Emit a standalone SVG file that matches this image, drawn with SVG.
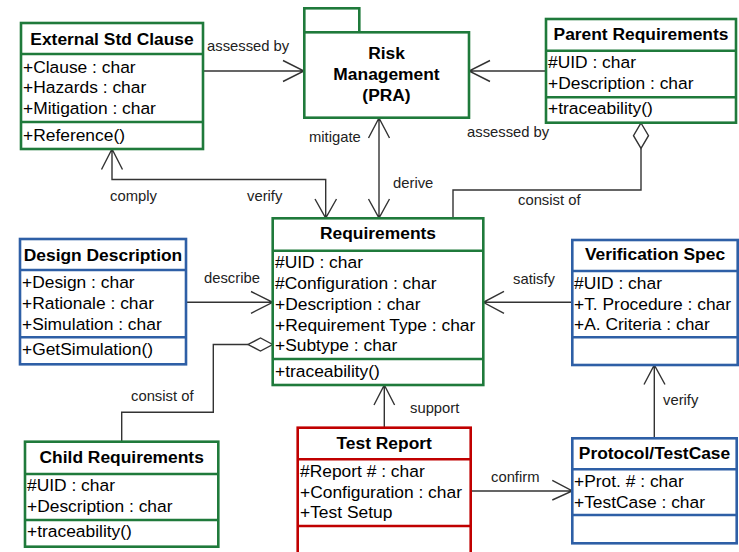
<svg xmlns="http://www.w3.org/2000/svg" width="739" height="552" viewBox="0 0 739 552">
<style>
.bg{fill:#fff}
.g{fill:#fff;stroke:#1f7a3b;stroke-width:2.6}
.b{fill:#fff;stroke:#2e5fa6;stroke-width:2.6}
.r{fill:#fff;stroke:#c00000;stroke-width:2.6}
.gl{stroke:#1f7a3b;stroke-width:2.6}
.bl{stroke:#2e5fa6;stroke-width:2.6}
.rl{stroke:#c00000;stroke-width:2.6}
.t{font-family:"Liberation Sans",Arial,sans-serif;font-size:17.4px;font-weight:bold;fill:#000;text-anchor:middle}
.a{font-family:"Liberation Sans",Arial,sans-serif;font-size:17.4px;fill:#000}
.lb{font-family:"Liberation Sans",Arial,sans-serif;font-size:14.8px;fill:#222}
.c{fill:none;stroke:#333;stroke-width:1.4}
.d{fill:#fff;stroke:#333;stroke-width:1.4}
</style>
<rect class="bg" width="739" height="552"/>

<g id="connectors">
  <!-- External -> Risk : assessed by -->
  <path class="c" d="M203,71 H304 M283,60.5 L304,71 L283,81.5"/>
  <text class="lb" x="207" y="51">assessed by</text>
  <!-- Parent -> Risk : assessed by -->
  <path class="c" d="M546,71 H469 M490,60.5 L469,71 L490,81.5"/>
  <text class="lb" x="467" y="137">assessed by</text>
  <!-- Risk <-> Requirements : mitigate / derive -->
  <path class="c" d="M379,118 V218 M368.5,138 L379,118 L389.5,138 M368.5,199 L379,218 L389.5,199"/>
  <text class="lb" x="309" y="142">mitigate</text>
  <text class="lb" x="393" y="188">derive</text>
  <!-- comply / verify -->
  <path class="c" d="M112,149 V179.5 H325.7 V218 M101.5,169.5 L112,149 L122.5,169.5 M315,199 L325.7,218 L336.5,199"/>
  <text class="lb" x="110" y="201">comply</text>
  <text class="lb" x="247" y="201">verify</text>
  <!-- Parent consist of -->
  <path class="d" d="M641,123 L648.5,135.7 L641,148.3 L633.5,135.7 Z"/>
  <path class="c" d="M641,148.3 V190 H453 V218"/>
  <text class="lb" x="518" y="205">consist of</text>
  <!-- describe -->
  <path class="c" d="M186,302.3 H272.7 M251,291.5 L272.7,302.3 L251,313.3"/>
  <text class="lb" x="204" y="283">describe</text>
  <!-- satisfy -->
  <path class="c" d="M572.3,302.3 H483.3 M504,291.3 L483.3,302.3 L504,313.3"/>
  <text class="lb" x="513" y="284">satisfy</text>
  <!-- child consist of -->
  <path class="d" d="M272.7,344.5 L260.5,338 L248,344.5 L260.5,351 Z"/>
  <path class="c" d="M248,344.5 H213.3 V412.3 H121.7 V441.7"/>
  <text class="lb" x="131" y="400.5">consist of</text>
  <!-- support -->
  <path class="c" d="M384.3,427.7 V385 M374,405 L384.3,385 L394.6,405"/>
  <text class="lb" x="410" y="413">support</text>
  <!-- confirm -->
  <path class="c" d="M470.7,491 H572.3 M552.3,480.3 L572.3,491 L552.3,500"/>
  <text class="lb" x="491" y="481.5">confirm</text>
  <!-- verify Protocol -> Verification Spec -->
  <path class="c" d="M654.3,438.3 V365 M644,384.5 L654.3,365 L665,384.5"/>
  <text class="lb" x="663" y="405">verify</text>
</g>

<g id="external-std-clause">
  <rect class="g" x="21" y="23" width="182" height="126"/>
  <line class="gl" x1="21" y1="54" x2="203" y2="54"/>
  <line class="gl" x1="21" y1="122" x2="203" y2="122"/>
  <text class="t" x="112" y="44.5">External Std Clause</text>
  <text class="a" x="23" y="72.7">+Clause : char</text>
  <text class="a" x="23" y="93.3">+Hazards : char</text>
  <text class="a" x="23" y="114">+Mitigation : char</text>
  <text class="a" x="23" y="141">+Reference()</text>
</g>

<g id="risk-management">
  <rect class="g" x="304.3" y="8.3" width="55" height="24"/>
  <rect class="g" x="304.3" y="32.3" width="164.7" height="85.4"/>
  <text class="t" x="386.5" y="59">Risk</text>
  <text class="t" x="386.5" y="80">Management</text>
  <text class="t" x="386.5" y="100.5">(PRA)</text>
</g>

<g id="parent-requirements">
  <rect class="g" x="546" y="19" width="190" height="103.7"/>
  <line class="gl" x1="546" y1="50.7" x2="736" y2="50.7"/>
  <line class="gl" x1="546" y1="97.3" x2="736" y2="97.3"/>
  <text class="t" x="641" y="39.5">Parent Requirements</text>
  <text class="a" x="548" y="68">#UID : char</text>
  <text class="a" x="548" y="88.5">+Description : char</text>
  <text class="a" x="548" y="113.5">+traceability()</text>
</g>

<g id="requirements">
  <rect class="g" x="272.7" y="218.3" width="210.6" height="166.7"/>
  <line class="gl" x1="272.7" y1="250.7" x2="483.3" y2="250.7"/>
  <line class="gl" x1="272.7" y1="359" x2="483.3" y2="359"/>
  <text class="t" x="378" y="239">Requirements</text>
  <text class="a" x="275" y="267.5">#UID : char</text>
  <text class="a" x="275" y="288.5">#Configuration : char</text>
  <text class="a" x="275" y="309.5">+Description : char</text>
  <text class="a" x="275" y="330.5">+Requirement Type : char</text>
  <text class="a" x="275" y="351">+Subtype : char</text>
  <text class="a" x="275" y="376.5">+traceability()</text>
</g>

<g id="design-description">
  <rect class="b" x="20" y="239" width="166" height="125.3"/>
  <line class="bl" x1="20" y1="270" x2="186" y2="270"/>
  <line class="bl" x1="20" y1="337.3" x2="186" y2="337.3"/>
  <text class="t" x="103" y="260.5">Design Description</text>
  <text class="a" x="22" y="288">+Design : char</text>
  <text class="a" x="22" y="309">+Rationale : char</text>
  <text class="a" x="22" y="329.5">+Simulation : char</text>
  <text class="a" x="22" y="354.5">+GetSimulation()</text>
</g>

<g id="verification-spec">
  <rect class="b" x="572.3" y="240" width="165.4" height="125"/>
  <line class="bl" x1="572.3" y1="271" x2="737.7" y2="271"/>
  <line class="bl" x1="572.3" y1="337.3" x2="737.7" y2="337.3"/>
  <text class="t" x="655" y="259.5">Verification Spec</text>
  <text class="a" x="574" y="288.5">#UID : char</text>
  <text class="a" x="574" y="309.5">+T. Procedure : char</text>
  <text class="a" x="574" y="330">+A. Criteria : char</text>
</g>

<g id="child-requirements">
  <rect class="g" x="25" y="441.7" width="193.3" height="105"/>
  <line class="gl" x1="25" y1="474" x2="218.3" y2="474"/>
  <line class="gl" x1="25" y1="520" x2="218.3" y2="520"/>
  <text class="t" x="121.7" y="463">Child Requirements</text>
  <text class="a" x="27" y="491.3">#UID : char</text>
  <text class="a" x="27" y="512">+Description : char</text>
  <text class="a" x="27" y="537">+traceability()</text>
</g>

<g id="test-report">
  <rect class="r" x="297.7" y="427.7" width="173" height="140"/>
  <line class="rl" x1="297.7" y1="459.3" x2="470.7" y2="459.3"/>
  <line class="rl" x1="297.7" y1="526" x2="470.7" y2="526"/>
  <text class="t" x="384.2" y="448.5">Test Report</text>
  <text class="a" x="300" y="477">#Report # : char</text>
  <text class="a" x="300" y="497.5">+Configuration : char</text>
  <text class="a" x="300" y="517.5">+Test Setup</text>
</g>

<g id="protocol-testcase">
  <rect class="b" x="572.3" y="438.3" width="164.4" height="105"/>
  <line class="bl" x1="572.3" y1="469.3" x2="736.7" y2="469.3"/>
  <line class="bl" x1="572.3" y1="515" x2="736.7" y2="515"/>
  <text class="t" x="654.5" y="458.5">Protocol/TestCase</text>
  <text class="a" x="574" y="487">+Prot. # : char</text>
  <text class="a" x="574" y="508">+TestCase : char</text>
</g>
</svg>
